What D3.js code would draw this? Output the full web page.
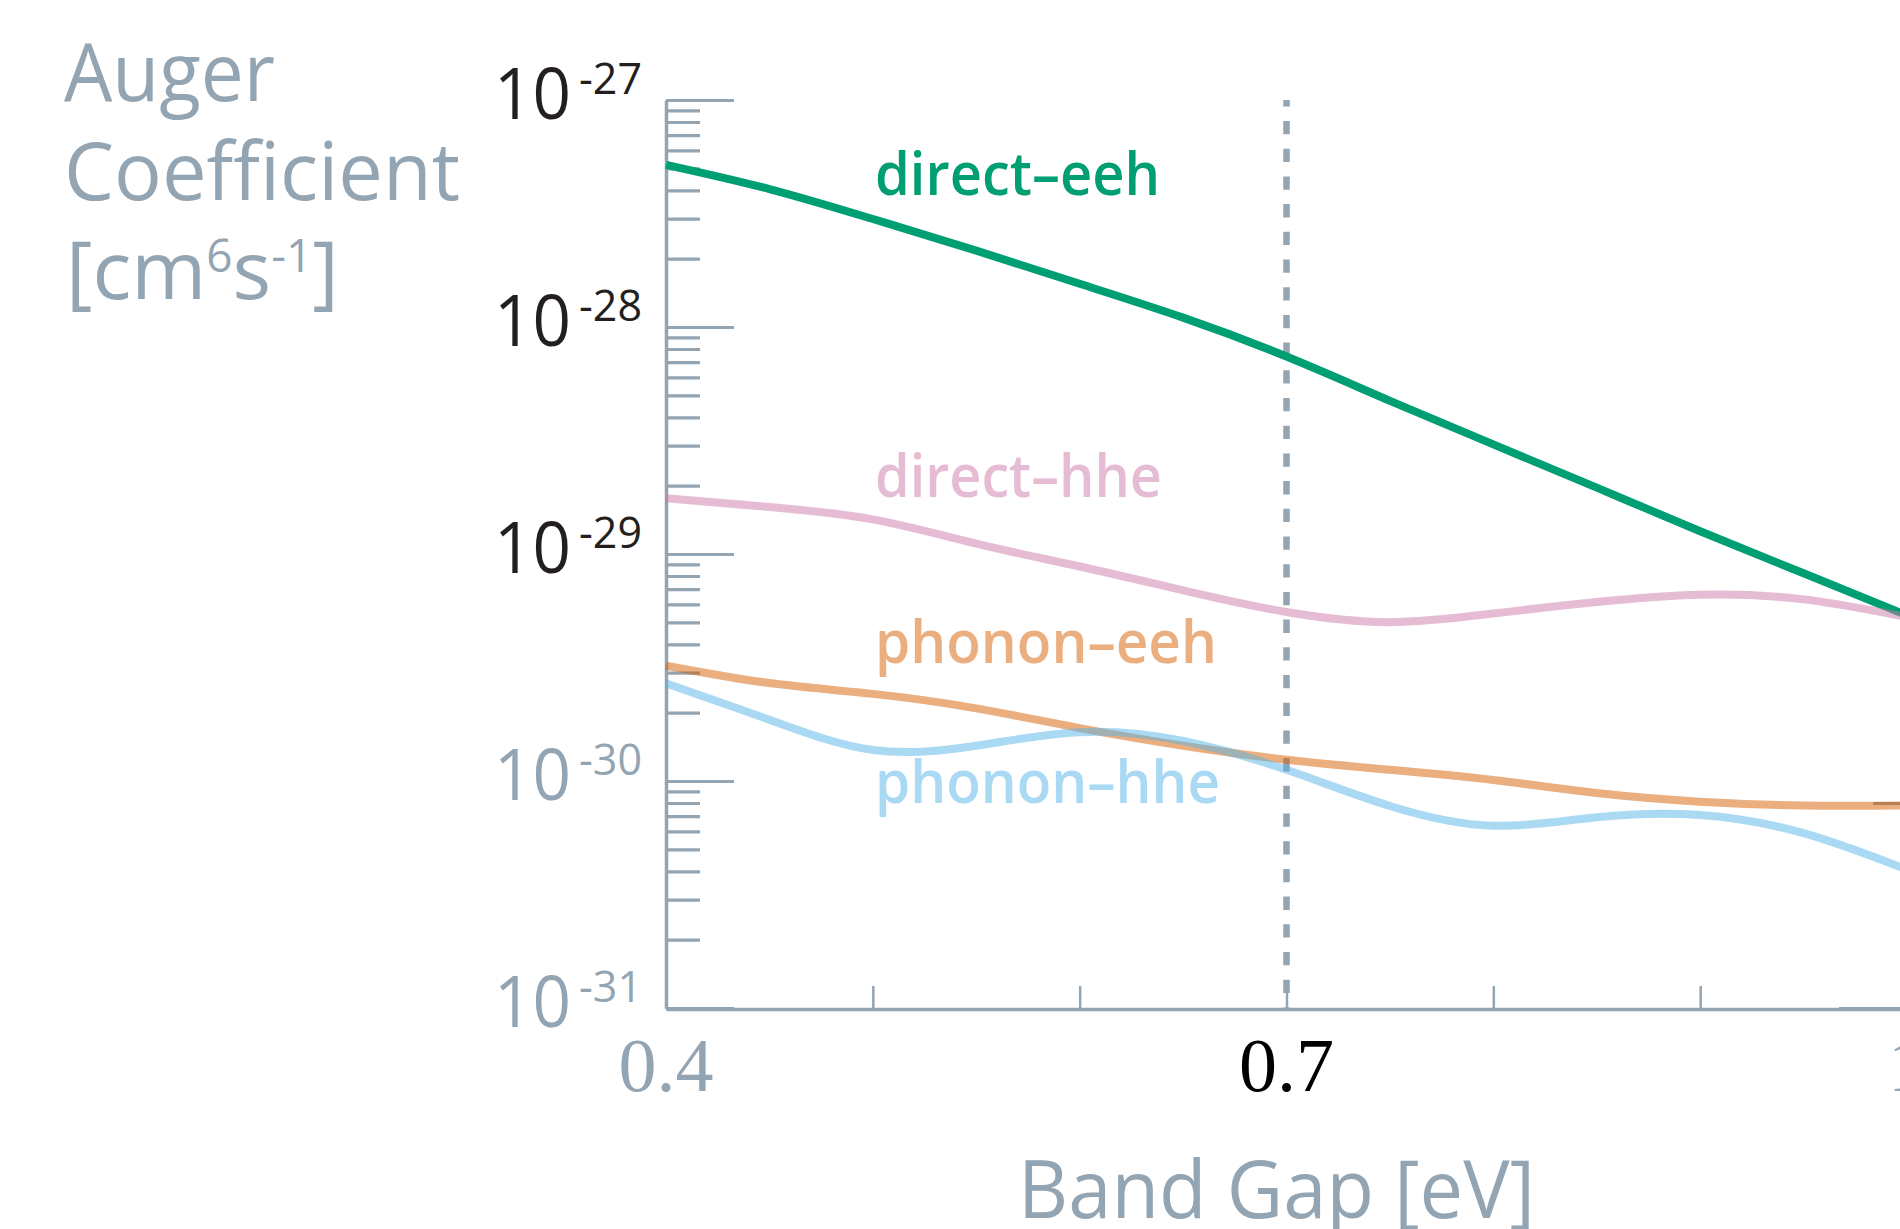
<!DOCTYPE html>
<html>
<head>
<meta charset="utf-8">
<script src="https://cdn.jsdelivr.net/npm/d3@7"></script>
<style>
  html, body { margin: 0; padding: 0; background: #ffffff; overflow: hidden; }
  svg { display: block; }
</style>
</head>
<body>
<svg id="chart" width="1900" height="1229"></svg>
<script>
// ---------- data ----------
const bandGap = [0.40, 0.45, 0.50, 0.55, 0.60, 0.65, 0.70, 0.75, 0.80, 0.85, 0.90, 0.95, 1.00];
const directEEH = [5.18e-28, 4.05e-28, 2.99e-28, 2.17e-28, 1.55e-28, 1.10e-28, 7.41e-29, 4.73e-29, 3.04e-29, 1.96e-29, 1.26e-29, 8.22e-30, 5.37e-30];
const directHHE = [1.76e-29, 1.61e-29, 1.42e-29, 1.11e-29, 8.81e-30, 6.92e-30, 5.55e-30, 5.01e-30, 5.47e-30, 6.14e-30, 6.61e-30, 6.31e-30, 5.27e-30];
const phononEEH = [3.22e-30, 2.70e-30, 2.42e-30, 2.09e-30, 1.71e-30, 1.43e-30, 1.24e-30, 1.12e-30, 1.01e-30, 8.85e-31, 8.11e-31, 7.80e-31, 7.80e-31];
const phononHHE = [2.69e-30, 1.86e-30, 1.37e-30, 1.43e-30, 1.64e-30, 1.50e-30, 1.12e-30, 7.76e-31, 6.35e-31, 6.92e-31, 7.08e-31, 5.89e-31, 4.07e-31];

const seriesNames = ["direct–eeh", "direct–hhe", "phonon–eeh", "phonon–hhe"];
const seriesColors = ["#009E73", "#CC79A7", "#D55E00", "#56B4E9"];
const seriesOpacity = [1, 0.5, 0.5, 0.5];

const yTickExponents = [-27, -28, -29, -30, -31];
const yTickLabelDark = [true, true, true, false, false];
const xTickValues = [0.4, 0.5, 0.6, 0.7, 0.8, 0.9, 1.0];
const xTickLabels = [{v: 0.4, t: "0.4", dark: false}, {v: 0.7, t: "0.7", dark: true}, {v: 1.0, t: "1", dark: false}];
const markerBandGap = 0.7;
const yTitleLines = ["Auger", "Coefficient"];
const xTitle = "Band Gap [eV]";

// ---------- style ----------
const GREY = "#93a4b3";
const DARK = "#231f20";
const SANS = "'Open Sans', 'Noto Sans', sans-serif";
const SERIF = "'Liberation Serif', 'DejaVu Serif', serif";

const svg = d3.select("#chart");

const x = d3.scaleLinear().domain([0.4, 1.0]).range([666, 1907]);
const y = d3.scaleLog().domain([1e-31, 1e-27]).range([1008, 100]);

// ---------- y axis ----------
const yTicksAll = [];
for (let e = -31; e < -27; e++) {
  for (let k = 1; k < 10; k++) yTicksAll.push(k * Math.pow(10, e));
}
yTicksAll.push(1e-27);
const isMajor = v => Math.abs(Math.log10(v) - Math.round(Math.log10(v))) < 1e-6;

const yAxisG = svg.append("g")
  .attr("transform", `translate(${x(0.4)},0)`)
  .call(d3.axisRight(y).tickValues(yTicksAll).tickSize(34).tickSizeOuter(0).tickFormat(""));
yAxisG.select(".domain").attr("stroke", GREY).attr("stroke-width", 3.5);
yAxisG.selectAll(".tick line")
  .attr("stroke", GREY).attr("stroke-width", 3.2)
  .attr("x2", d => isMajor(d) ? 68 : 34);

// right-side remnant ticks at x = 1.0
const yAxisR = svg.append("g")
  .attr("transform", `translate(${x(1.0)},0)`)
  .call(d3.axisLeft(y).tickValues([1e-31, 8e-31]).tickSize(34).tickSizeOuter(0).tickFormat(""));
yAxisR.select(".domain").remove();
yAxisR.selectAll(".tick line")
  .attr("stroke", GREY).attr("stroke-width", 3.2)
  .attr("x2", d => isMajor(d) ? -68 : -34);

// ---------- x axis ----------
const xAxisG = svg.append("g")
  .attr("transform", `translate(0,${y(1e-31) + 1})`)
  .call(d3.axisTop(x).tickValues(xTickValues).tickSize(23).tickSizeOuter(0).tickFormat(""));
xAxisG.select(".domain").attr("stroke", GREY).attr("stroke-width", 3.5);
xAxisG.selectAll(".tick line").attr("stroke", GREY).attr("stroke-width", 2.5);

// y tick labels
yTickExponents.forEach((e, i) => {
  const yy = y(Math.pow(10, e));
  const col = yTickLabelDark[i] ? DARK : GREY;
  svg.append("text")
    .attr("x", 494).attr("y", yy + 19)
    .attr("font-family", SANS).attr("font-size", 72)
    .attr("fill", col)
    .attr("textLength", 77).attr("lengthAdjust", "spacingAndGlyphs")
    .text("10");
  svg.append("text")
    .attr("x", 579).attr("y", yy - 6)
    .attr("font-family", SANS).attr("font-size", 43)
    .attr("fill", col)
    .text("-" + String(-e));
});

// x tick labels
xTickLabels.forEach(d => {
  svg.append("text")
    .attr("x", x(d.v)).attr("y", 1091)
    .attr("text-anchor", "middle")
    .attr("font-family", SERIF).attr("font-size", 76)
    .attr("fill", d.dark ? "#000000" : GREY)
    .text(d.t);
});

// axis titles
yTitleLines.forEach((t, i) => {
  svg.append("text")
    .attr("x", 64).attr("y", 101 + i * 99)
    .attr("font-family", SANS).attr("font-size", 81)
    .attr("fill", GREY)
    .attr("textLength", i === 0 ? 211 : 396).attr("lengthAdjust", "spacingAndGlyphs")
    .text(t);
});
const unit = svg.append("text")
  .attr("x", 66).attr("y", 299)
  .attr("font-family", SANS).attr("font-size", 81)
  .attr("fill", GREY);
unit.append("tspan").text("[cm");
unit.append("tspan").attr("font-size", 46).attr("dy", -27).text("6");
unit.append("tspan").attr("dy", 27).text("s");
unit.append("tspan").attr("font-size", 46).attr("dy", -27).text("-1");
unit.append("tspan").attr("dy", 27).text("]");

svg.append("text")
  .attr("x", 1018).attr("y", 1218)
  .attr("font-family", SANS).attr("font-size", 81)
  .attr("fill", GREY)
  .attr("textLength", 517).attr("lengthAdjust", "spacingAndGlyphs")
  .text(xTitle);

// ---------- dashed marker ----------
svg.append("line")
  .attr("x1", x(markerBandGap)).attr("x2", x(markerBandGap))
  .attr("y1", y(1e-27)).attr("y2", y(1e-31))
  .attr("stroke", GREY).attr("stroke-width", 6.5)
  .attr("stroke-dasharray", "13.3 14.4").attr("stroke-dashoffset", 6.7);

// ---------- curves ----------
const allSeries = [directEEH, directHHE, phononEEH, phononHHE];
const line = d3.line()
  .x((d, i) => x(bandGap[i]))
  .y(d => y(d))
  .curve(d3.curveNatural);

allSeries.forEach((vals, si) => {
  svg.append("path")
    .datum(vals)
    .attr("d", line)
    .attr("fill", "none")
    .attr("stroke", seriesColors[si])
    .attr("stroke-opacity", seriesOpacity[si])
    .attr("stroke-width", 8);
});

// ---------- labels ----------
const labelBaselines = [195, 497, 663, 803];
const labelWidths = [285, 287, 342, 345];
seriesNames.forEach((n, i) => {
  svg.append("text")
    .attr("x", 875).attr("y", labelBaselines[i])
    .attr("font-family", SANS).attr("font-weight", 600).attr("font-size", 60)
    .attr("fill", seriesColors[i]).attr("fill-opacity", seriesOpacity[i])
    .attr("textLength", labelWidths[i]).attr("lengthAdjust", "spacingAndGlyphs")
    .text(n);
});
</script>
</body>
</html>
